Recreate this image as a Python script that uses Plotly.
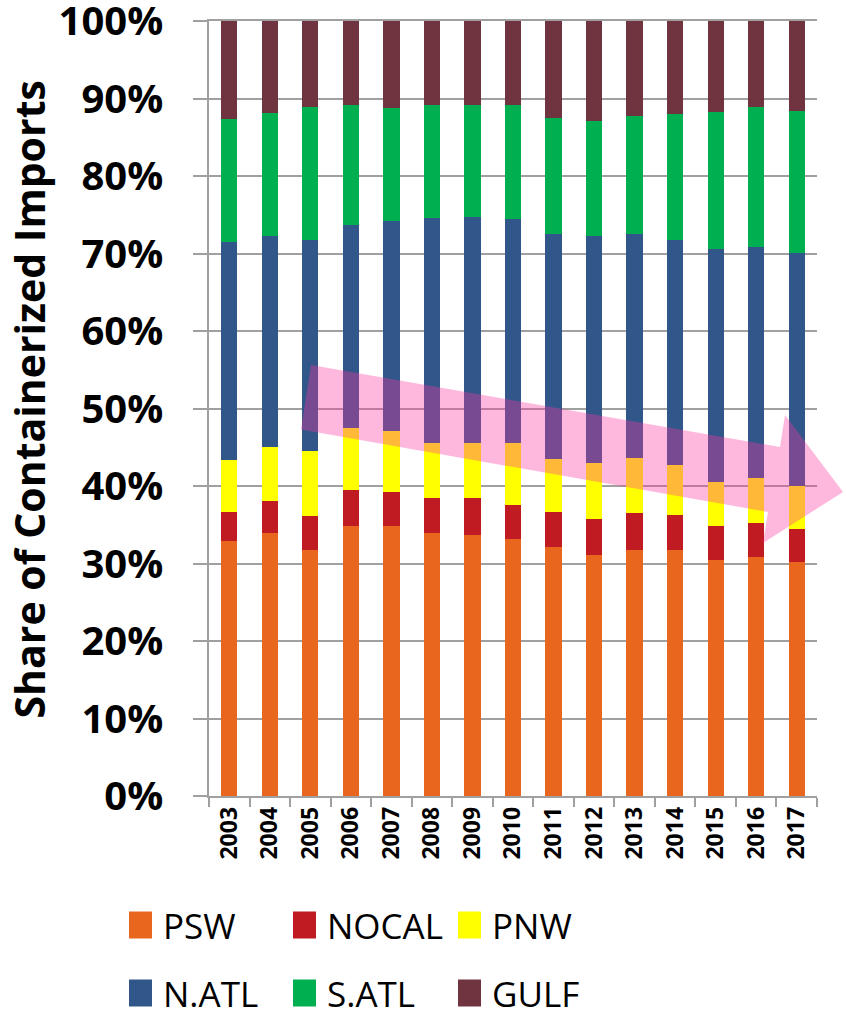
import plotly.graph_objects as go

# Share of containerized imports by coast region, 2003-2017 (percent)
years = [str(y) for y in range(2003, 2018)]

psw   = [32.9, 33.9, 31.7, 34.9, 34.8, 33.9, 33.7, 33.1, 32.1, 31.1, 31.8, 31.7, 30.4, 30.8, 30.2]
nocal = [3.8, 4.2, 4.4, 4.6, 4.4, 4.5, 4.7, 4.5, 4.5, 4.6, 4.7, 4.5, 4.4, 4.4, 4.3]
pnw   = [6.6, 6.9, 8.4, 8.0, 7.9, 7.2, 7.1, 7.9, 6.9, 7.3, 7.1, 6.5, 5.7, 5.8, 5.5]
natl  = [28.2, 27.3, 27.2, 26.2, 27.1, 29.0, 29.2, 28.9, 29.0, 29.2, 28.9, 29.0, 30.1, 29.8, 30.1]
satl  = [15.9, 15.8, 17.2, 15.4, 14.6, 14.5, 14.4, 14.8, 15.0, 14.9, 15.3, 16.3, 17.7, 18.1, 18.3]
gulf  = [12.6, 12.0, 11.1, 10.9, 11.2, 10.9, 10.9, 10.8, 12.5, 12.9, 12.2, 12.0, 11.7, 11.1, 11.7]

series_names = ["PSW", "NOCAL", "PNW", "N.ATL", "S.ATL", "GULF"]
series_values = [psw, nocal, pnw, natl, satl, gulf]
series_colors = ["#E9661F", "#C01A23", "#FFFF00", "#31578A", "#00AF50", "#6F3440"]

y_ticks = list(range(0, 101, 10))
y_tick_labels = [f"{v}%" for v in y_ticks]
y_title = "Share of Containerized Imports"

FONT = "Open Sans"
GRID = "#A0A0A0"
W, H = 846, 1016
ML, MR, MT, MB = 209, 29, 21, 220
PW, PH = W - ML - MR, H - MT - MB


def px_to_paper(px, py):
    """Convert page pixel position to paper coordinates of the plot area."""
    return (px - ML) / PW, (H - MB - py) / PH


fig = go.Figure()
for name, vals, col in zip(series_names, series_values, series_colors):
    fig.add_trace(go.Bar(
        x=years, y=vals, name=name,
        marker=dict(color=col, line=dict(width=0)),
        showlegend=False,
    ))

# Translucent downward-trend arrow drawn over the bars
arrow_px = [(311, 365), (780, 447), (785, 415), (843, 492),
            (763, 543), (768, 512), (301, 429.5)]
pts = [px_to_paper(x, y) for x, y in arrow_px]
path = "M " + " L ".join(f"{x:.4f},{y:.4f}" for x, y in pts) + " Z"
shapes = [dict(type="path", path=path, xref="paper", yref="paper",
               fillcolor="rgba(255,52,159,0.35)", line=dict(width=0),
               layer="above")]

# Two-row legend with square swatches
annotations = []
legend_cols_px = [129, 293, 458]
legend_rows_px = [925, 993]
for i, (name, col) in enumerate(zip(series_names, series_colors)):
    r, c = divmod(i, 3)
    sx, sy = legend_cols_px[c], legend_rows_px[r]
    x0, y0 = px_to_paper(sx, sy + 13.5)
    x1, y1 = px_to_paper(sx + 23, sy - 13.5)
    shapes.append(dict(type="rect", xref="paper", yref="paper",
                       x0=x0, y0=y0, x1=x1, y1=y1,
                       fillcolor=col, line=dict(width=0)))
    tx, ty = px_to_paper(sx + 32, sy)
    annotations.append(dict(text=name, xref="paper", yref="paper",
                            x=tx, y=ty, xanchor="left", yanchor="middle",
                            showarrow=False,
                            font=dict(family=FONT, size=35, color="black")))

# Vertical axis title
tx, ty = px_to_paper(28.5, 400)
annotations.append(dict(text=y_title, xref="paper", yref="paper", x=tx, y=ty,
                        xanchor="center", yanchor="middle", textangle=-90,
                        showarrow=False,
                        font=dict(family=FONT, size=41, color="black", weight="bold")))

fig.update_layout(
    width=W, height=H,
    margin=dict(l=ML, r=MR, t=MT, b=MB, autoexpand=False),
    barmode="stack", bargap=0.6,
    plot_bgcolor="white", paper_bgcolor="white",
    shapes=shapes, annotations=annotations,
    xaxis=dict(
        type="category", showline=True, mirror=True, linecolor=GRID, linewidth=1.5,
        ticks="outside", tickson="boundaries", ticklen=9, tickcolor=GRID,
        tickwidth=1.5, tickangle=-90, showgrid=False,
        tickfont=dict(family=FONT, size=23, color="black", weight="bold"),
    ),
    yaxis=dict(
        range=[0, 100], tickmode="array", tickvals=y_ticks, ticktext=y_tick_labels,
        ticklabeloverflow="allow",
        showgrid=True, gridcolor=GRID, gridwidth=1.5,
        showline=True, linecolor=GRID, linewidth=1.5,
        ticks="outside", ticklen=14, tickcolor=GRID, tickwidth=1.5,
        ticklabelstandoff=22, zeroline=False,
        tickfont=dict(family=FONT, size=40, color="black", weight="bold"),
    ),
)

fig.write_html("out.html")
